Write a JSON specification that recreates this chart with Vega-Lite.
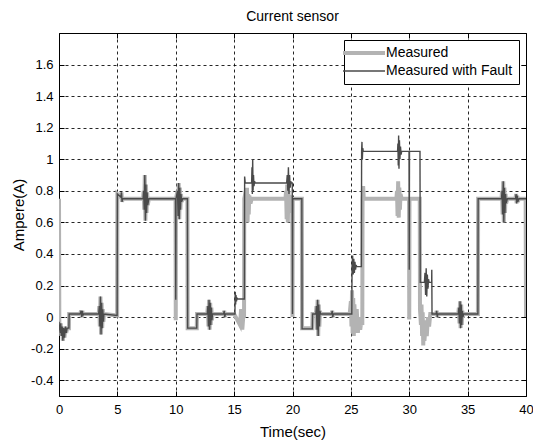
{
"$schema": "https://vega.github.io/schema/vega-lite/v6.json",
"width": 467, "height": 363,
"autosize": {"type": "none"},
"padding": {"left": 59, "top": 33, "right": 7, "bottom": 46},
"background": "white",
"title": {"text": "Current sensor", "fontSize": 14, "fontWeight": "normal", "font": "Liberation Sans", "color": "black", "baseline": "alphabetic", "offset": 14, "dy": 16},
"datasets": {
"measured": [
{"t":0,"v":0.75},{"t":0.03,"v":-0.06},{"t":0.1,"v":-0.1},{"t":0.15,"v":-0.04},{"t":0.2,"v":-0.12},{"t":0.27,"v":-0.06},{"t":0.33,"v":-0.15},{"t":0.4,"v":-0.07},{"t":0.47,"v":-0.13},{"t":0.55,"v":-0.06},{"t":0.62,"v":-0.1},{"t":0.7,"v":-0.07},{"t":0.85,"v":-0.07},{"t":0.87,"v":0.02},{"t":1.8,"v":0.02},{"t":1.9,"v":0.04},{"t":1.95,"v":0.0},{"t":2.0,"v":0.04},{"t":2.05,"v":0.01},{"t":2.1,"v":0.02},{"t":3.4,"v":0.02},{"t":3.45,"v":0.07},{"t":3.5,"v":-0.06},{"t":3.55,"v":0.13},{"t":3.6,"v":-0.11},{"t":3.65,"v":0.09},{"t":3.7,"v":-0.07},{"t":3.75,"v":0.05},{"t":3.8,"v":-0.03},{"t":3.85,"v":0.02},{"t":4.98,"v":0.01},{"t":5.0,"v":0.78},{"t":5.3,"v":0.76},{"t":5.35,"v":0.79},{"t":5.4,"v":0.73},{"t":5.45,"v":0.75},{"t":7.2,"v":0.75},{"t":7.25,"v":0.8},{"t":7.3,"v":0.68},{"t":7.35,"v":0.9},{"t":7.4,"v":0.61},{"t":7.45,"v":0.84},{"t":7.5,"v":0.66},{"t":7.55,"v":0.79},{"t":7.6,"v":0.71},{"t":7.7,"v":0.75},{"t":9.98,"v":0.75},{"t":10.0,"v":-0.02},{"t":10.02,"v":0.75},{"t":10.15,"v":0.8},{"t":10.2,"v":0.64},{"t":10.25,"v":0.85},{"t":10.3,"v":0.62},{"t":10.35,"v":0.82},{"t":10.4,"v":0.68},{"t":10.45,"v":0.78},{"t":10.5,"v":0.73},{"t":10.6,"v":0.75},{"t":11.0,"v":0.75},{"t":11.02,"v":-0.07},{"t":11.8,"v":-0.07},{"t":11.82,"v":0.02},{"t":12.7,"v":0.02},{"t":12.75,"v":0.07},{"t":12.8,"v":-0.06},{"t":12.85,"v":0.11},{"t":12.9,"v":-0.08},{"t":12.95,"v":0.09},{"t":13.0,"v":-0.05},{"t":13.05,"v":0.06},{"t":13.1,"v":-0.02},{"t":13.15,"v":0.02},{"t":14.1,"v":0.02},{"t":14.15,"v":0.04},{"t":14.2,"v":0.0},{"t":14.25,"v":0.02},{"t":15.0,"v":0.02},{"t":15.5,"v":-0.05},{"t":15.6,"v":0.05},{"t":15.7,"v":-0.08},{"t":15.8,"v":0.02},{"t":15.85,"v":0.0},{"t":15.87,"v":0.75},{"t":16.0,"v":0.8},{"t":16.05,"v":0.62},{"t":16.1,"v":0.82},{"t":16.15,"v":0.6},{"t":16.2,"v":0.78},{"t":16.25,"v":0.65},{"t":16.3,"v":0.77},{"t":16.4,"v":0.72},{"t":16.5,"v":0.75},{"t":19.4,"v":0.75},{"t":19.45,"v":0.8},{"t":19.5,"v":0.62},{"t":19.55,"v":0.84},{"t":19.6,"v":0.6},{"t":19.65,"v":0.8},{"t":19.7,"v":0.66},{"t":19.75,"v":0.77},{"t":19.85,"v":0.75},{"t":19.98,"v":0.75},{"t":20.0,"v":0.0},{"t":20.02,"v":0.75},{"t":20.8,"v":0.75},{"t":20.82,"v":-0.07},{"t":21.7,"v":-0.07},{"t":21.72,"v":0.02},{"t":22.0,"v":0.02},{"t":22.05,"v":0.07},{"t":22.1,"v":-0.08},{"t":22.15,"v":0.11},{"t":22.2,"v":-0.12},{"t":22.25,"v":0.08},{"t":22.3,"v":-0.06},{"t":22.35,"v":0.04},{"t":22.4,"v":0.02},{"t":23.35,"v":0.02},{"t":23.4,"v":0.04},{"t":23.45,"v":0.0},{"t":23.5,"v":0.02},{"t":24.9,"v":0.02},{"t":25.0,"v":0.1},{"t":25.05,"v":-0.06},{"t":25.1,"v":0.17},{"t":25.15,"v":-0.1},{"t":25.2,"v":0.12},{"t":25.25,"v":-0.12},{"t":25.3,"v":0.08},{"t":25.4,"v":-0.09},{"t":25.5,"v":0.05},{"t":25.6,"v":-0.1},{"t":25.7,"v":0.0},{"t":25.8,"v":-0.08},{"t":25.9,"v":-0.02},{"t":25.98,"v":-0.05},{"t":26.0,"v":0.75},{"t":26.05,"v":0.83},{"t":26.1,"v":0.75},{"t":28.9,"v":0.75},{"t":28.95,"v":0.8},{"t":29.0,"v":0.64},{"t":29.05,"v":0.86},{"t":29.1,"v":0.63},{"t":29.15,"v":0.82},{"t":29.2,"v":0.68},{"t":29.25,"v":0.78},{"t":29.35,"v":0.75},{"t":29.98,"v":0.75},{"t":30.0,"v":-0.015},{"t":30.02,"v":0.75},{"t":30.9,"v":0.75},{"t":30.92,"v":0.05},{"t":31.0,"v":-0.05},{"t":31.05,"v":0.08},{"t":31.1,"v":-0.12},{"t":31.15,"v":0.03},{"t":31.2,"v":-0.18},{"t":31.25,"v":-0.02},{"t":31.3,"v":-0.15},{"t":31.4,"v":-0.05},{"t":31.5,"v":-0.12},{"t":31.6,"v":0.0},{"t":31.7,"v":-0.06},{"t":31.8,"v":0.02},{"t":32.3,"v":0.02},{"t":32.35,"v":0.04},{"t":32.4,"v":0.0},{"t":32.45,"v":0.02},{"t":34.2,"v":0.02},{"t":34.25,"v":0.06},{"t":34.3,"v":-0.04},{"t":34.35,"v":0.1},{"t":34.4,"v":-0.07},{"t":34.45,"v":0.08},{"t":34.5,"v":-0.05},{"t":34.55,"v":0.04},{"t":34.6,"v":0.0},{"t":34.65,"v":0.02},{"t":35.88,"v":0.02},{"t":35.9,"v":0.75},{"t":37.9,"v":0.75},{"t":37.95,"v":0.8},{"t":38.0,"v":0.65},{"t":38.05,"v":0.86},{"t":38.1,"v":0.6},{"t":38.15,"v":0.82},{"t":38.2,"v":0.66},{"t":38.25,"v":0.78},{"t":38.3,"v":0.72},{"t":38.4,"v":0.75},{"t":39.1,"v":0.75},{"t":39.15,"v":0.78},{"t":39.2,"v":0.72},{"t":39.25,"v":0.77},{"t":39.3,"v":0.73},{"t":39.4,"v":0.75},{"t":39.97,"v":0.75},{"t":40.0,"v":0.0}
],
"fault": [
{"t":0,"v":-0.03},{"t":0.03,"v":-0.06},{"t":0.1,"v":-0.1},{"t":0.15,"v":-0.04},{"t":0.2,"v":-0.12},{"t":0.27,"v":-0.06},{"t":0.33,"v":-0.15},{"t":0.4,"v":-0.07},{"t":0.47,"v":-0.13},{"t":0.55,"v":-0.06},{"t":0.62,"v":-0.1},{"t":0.7,"v":-0.07},{"t":0.85,"v":-0.07},{"t":0.87,"v":0.02},{"t":1.8,"v":0.02},{"t":1.9,"v":0.04},{"t":1.95,"v":0.0},{"t":2.0,"v":0.04},{"t":2.05,"v":0.01},{"t":2.1,"v":0.02},{"t":3.4,"v":0.02},{"t":3.45,"v":0.07},{"t":3.5,"v":-0.06},{"t":3.55,"v":0.13},{"t":3.6,"v":-0.11},{"t":3.65,"v":0.09},{"t":3.7,"v":-0.07},{"t":3.75,"v":0.05},{"t":3.8,"v":-0.03},{"t":3.85,"v":0.02},{"t":4.98,"v":0.01},{"t":5.0,"v":0.78},{"t":5.3,"v":0.76},{"t":5.35,"v":0.79},{"t":5.4,"v":0.73},{"t":5.45,"v":0.75},{"t":7.2,"v":0.75},{"t":7.25,"v":0.8},{"t":7.3,"v":0.68},{"t":7.35,"v":0.9},{"t":7.4,"v":0.61},{"t":7.45,"v":0.84},{"t":7.5,"v":0.66},{"t":7.55,"v":0.79},{"t":7.6,"v":0.71},{"t":7.7,"v":0.75},{"t":9.98,"v":0.75},{"t":10.0,"v":0.11},{"t":10.02,"v":0.75},{"t":10.15,"v":0.8},{"t":10.2,"v":0.64},{"t":10.25,"v":0.85},{"t":10.3,"v":0.62},{"t":10.35,"v":0.82},{"t":10.4,"v":0.68},{"t":10.45,"v":0.78},{"t":10.5,"v":0.73},{"t":10.6,"v":0.75},{"t":11.0,"v":0.75},{"t":11.02,"v":-0.07},{"t":11.8,"v":-0.07},{"t":11.82,"v":0.02},{"t":12.7,"v":0.02},{"t":12.75,"v":0.07},{"t":12.8,"v":-0.06},{"t":12.85,"v":0.11},{"t":12.9,"v":-0.08},{"t":12.95,"v":0.09},{"t":13.0,"v":-0.05},{"t":13.05,"v":0.06},{"t":13.1,"v":-0.02},{"t":13.15,"v":0.02},{"t":14.1,"v":0.02},{"t":14.15,"v":0.04},{"t":14.2,"v":0.0},{"t":14.25,"v":0.02},{"t":15.07,"v":0.02},{"t":15.08,"v":0.115},{"t":15.1,"v":0.16},{"t":15.13,"v":0.08},{"t":15.16,"v":0.14},{"t":15.2,"v":0.1},{"t":15.25,"v":0.12},{"t":15.3,"v":0.115},{"t":15.88,"v":0.115},{"t":15.9,"v":0.89},{"t":15.95,"v":0.85},{"t":16.5,"v":0.85},{"t":16.53,"v":0.95},{"t":16.56,"v":0.78},{"t":16.59,"v":1.0},{"t":16.62,"v":0.8},{"t":16.66,"v":0.9},{"t":16.7,"v":0.83},{"t":16.75,"v":0.86},{"t":16.8,"v":0.85},{"t":19.5,"v":0.85},{"t":19.55,"v":0.9},{"t":19.6,"v":0.8},{"t":19.65,"v":0.95},{"t":19.7,"v":0.78},{"t":19.75,"v":0.9},{"t":19.8,"v":0.82},{"t":19.85,"v":0.86},{"t":19.9,"v":0.85},{"t":19.98,"v":0.85},{"t":20.0,"v":0.02},{"t":20.02,"v":0.75},{"t":20.8,"v":0.75},{"t":20.82,"v":-0.075},{"t":21.7,"v":-0.075},{"t":21.72,"v":0.02},{"t":22.0,"v":0.02},{"t":22.05,"v":0.07},{"t":22.1,"v":-0.08},{"t":22.15,"v":0.11},{"t":22.2,"v":-0.12},{"t":22.25,"v":0.08},{"t":22.3,"v":-0.06},{"t":22.35,"v":0.04},{"t":22.4,"v":0.02},{"t":23.35,"v":0.02},{"t":23.4,"v":0.04},{"t":23.45,"v":0.0},{"t":23.5,"v":0.02},{"t":25.08,"v":0.02},{"t":25.1,"v":0.32},{"t":25.15,"v":0.39},{"t":25.2,"v":0.27},{"t":25.25,"v":0.37},{"t":25.3,"v":0.28},{"t":25.35,"v":0.35},{"t":25.4,"v":0.3},{"t":25.45,"v":0.33},{"t":25.5,"v":0.32},{"t":25.9,"v":0.32},{"t":25.92,"v":1.05},{"t":25.95,"v":1.11},{"t":25.98,"v":1.0},{"t":26.02,"v":1.07},{"t":26.06,"v":1.05},{"t":29.0,"v":1.05},{"t":29.03,"v":1.1},{"t":29.06,"v":0.96},{"t":29.09,"v":1.15},{"t":29.12,"v":0.94},{"t":29.16,"v":1.12},{"t":29.2,"v":1.0},{"t":29.25,"v":1.08},{"t":29.3,"v":1.03},{"t":29.35,"v":1.05},{"t":29.98,"v":1.05},{"t":30.0,"v":0.3},{"t":30.02,"v":1.05},{"t":30.92,"v":1.05},{"t":30.94,"v":0.22},{"t":31.3,"v":0.22},{"t":31.35,"v":0.28},{"t":31.4,"v":0.14},{"t":31.45,"v":0.31},{"t":31.5,"v":0.13},{"t":31.55,"v":0.27},{"t":31.6,"v":0.18},{"t":31.65,"v":0.24},{"t":31.7,"v":0.22},{"t":31.92,"v":0.22},{"t":31.93,"v":0.3},{"t":31.95,"v":0.02},{"t":32.3,"v":0.02},{"t":32.35,"v":0.04},{"t":32.4,"v":0.0},{"t":32.45,"v":0.02},{"t":34.2,"v":0.02},{"t":34.25,"v":0.06},{"t":34.3,"v":-0.04},{"t":34.35,"v":0.1},{"t":34.4,"v":-0.07},{"t":34.45,"v":0.08},{"t":34.5,"v":-0.05},{"t":34.55,"v":0.04},{"t":34.6,"v":0.0},{"t":34.65,"v":0.02},{"t":35.88,"v":0.02},{"t":35.9,"v":0.75},{"t":37.9,"v":0.75},{"t":37.95,"v":0.8},{"t":38.0,"v":0.65},{"t":38.05,"v":0.86},{"t":38.1,"v":0.6},{"t":38.15,"v":0.82},{"t":38.2,"v":0.66},{"t":38.25,"v":0.78},{"t":38.3,"v":0.72},{"t":38.4,"v":0.75},{"t":39.1,"v":0.75},{"t":39.15,"v":0.78},{"t":39.2,"v":0.72},{"t":39.25,"v":0.77},{"t":39.3,"v":0.73},{"t":39.4,"v":0.75},{"t":40.0,"v":0.75}
]
},
"layer": [
{
"data": {"name": "measured"},
"mark": {"type": "line", "strokeWidth": 4, "clip": true},
"encoding": {
"x": {"field": "t", "type": "quantitative", "scale": {"domain": [0, 40], "nice": false},
"axis": {"values": [0,5,10,15,20,25,30,35,40], "title": "Time(sec)", "grid": true, "ticks": true, "tickSize": -5, "labelPadding": 12, "labelFlush": false, "titleY": 40, "titleBaseline": "alphabetic"}},
"y": {"field": "v", "type": "quantitative", "scale": {"domain": [-0.5, 1.8], "nice": false, "zero": false},
"axis": {"values": [-0.4,-0.2,0,0.2,0.4,0.6,0.8,1,1.2,1.4,1.6], "labelExpr": "'' + datum.value", "title": "Ampere(A)", "grid": true, "ticks": true, "tickSize": -5, "labelPadding": 11, "labelFlush": false, "titleX": -36, "titleY": 181.5, "titleAngle": -90, "titleBaseline": "alphabetic", "titleAlign": "center"}},
"color": {"datum": "Measured", "type": "nominal",
"scale": {"domain": ["Measured", "Measured with Fault"], "range": ["#b3b3b3", "#4a4a4a"]},
"legend": {"title": null, "orient": "none", "legendX": 285, "legendY": 7, "symbolType": "stroke", "symbolSize": 1764, "symbolOffset": 7, "labelFontSize": 14, "labelFont": "Liberation Sans", "labelColor": "black", "strokeColor": "black", "fillColor": "white", "padding": 6, "rowPadding": 3, "labelOffset": 15, "cornerRadius": 0,
"encode": {"symbols": {"update": {"strokeWidth": {"signal": "datum.value === 'Measured' ? 4 : 1.3"}}}}}}
}
},
{
"data": {"name": "fault"},
"mark": {"type": "line", "strokeWidth": 1.4, "clip": true},
"encoding": {
"x": {"field": "t", "type": "quantitative", "axis": {"orient": "top", "values": [0,5,10,15,20,25,30,35,40], "labels": false, "grid": false, "ticks": true, "tickSize": -5, "title": null}},
"y": {"field": "v", "type": "quantitative", "axis": {"orient": "right", "values": [-0.4,-0.2,0,0.2,0.4,0.6,0.8,1,1.2,1.4,1.6], "labels": false, "grid": false, "ticks": true, "tickSize": -5, "title": null}},
"color": {"datum": "Measured with Fault", "type": "nominal"}
}
}
],
"resolve": {"axis": {"x": "independent", "y": "independent"}},
"config": {
"view": {"stroke": "black", "strokeWidth": 1},
"axis": {"labelFont": "Liberation Sans", "labelFontSize": 13, "labelColor": "black", "titleFont": "Liberation Sans", "titleFontSize": 15, "titleFontWeight": "normal", "titleColor": "black", "gridColor": "black", "gridDash": [3, 3], "gridOpacity": 0.85, "gridWidth": 1, "domain": false, "tickColor": "black", "tickWidth": 1}
}
}
